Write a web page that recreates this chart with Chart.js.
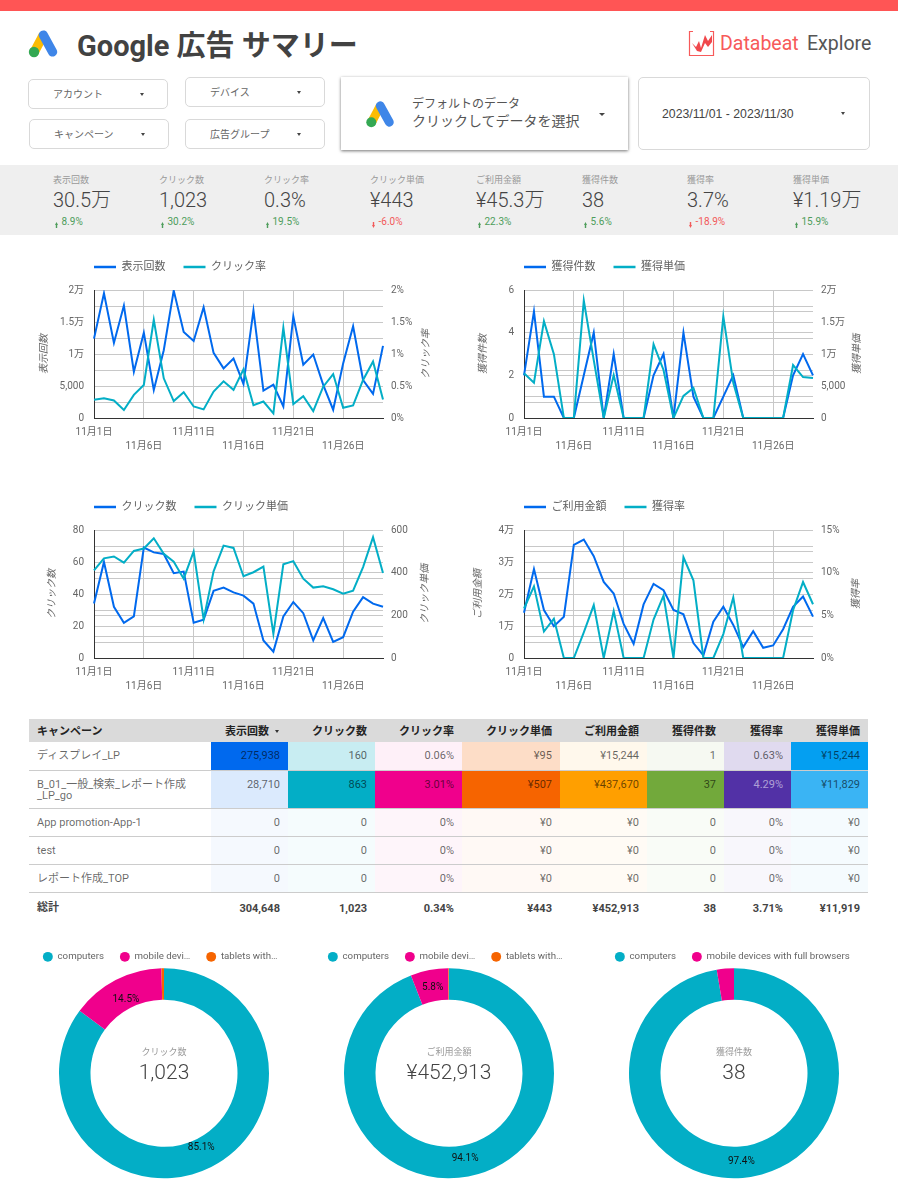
<!DOCTYPE html>
<html lang="ja">
<head>
<meta charset="utf-8">
<title>Google 広告 サマリー</title>
<script src="https://cdn.jsdelivr.net/npm/chart.js@4/dist/chart.umd.min.js"></script>
<style>
  html, body { margin: 0; padding: 0; background: #fff; }
  body { width: 898px; height: 1198px; position: relative; overflow: hidden;
         font-family: Roboto, "Noto Sans CJK JP", sans-serif; color: #444; }
  .abs { position: absolute; white-space: nowrap; }
  canvas { position: absolute; }
  .box { position: absolute; box-sizing: border-box; background: #fff; border: 1px solid #d9d9d9; border-radius: 5px; }
  .boxText { position: absolute; font-size: 10px; color: #666; line-height: 12px; white-space: nowrap; }
  .caret { position: absolute; width: 0; height: 0; border-left: 2.5px solid transparent;
           border-right: 2.5px solid transparent; border-top: 3px solid #444; }
  #band { position: absolute; left: 0; top: 165px; width: 898px; height: 70px; background: #efefef; }
  #tbl { position: absolute; left: 29px; top: 719px; width: 839px; border-collapse: collapse; table-layout: fixed; font-size: 11px; }
  #tbl th { height: 23px; box-sizing: border-box; background: #dadada; color: #222; text-align: right; padding: 0 8px 2px; font-weight: 700; white-space: nowrap; }
  #tbl th:first-child, #tbl td:first-child { text-align: left; }
  #tbl td { vertical-align: top; text-align: right; padding: 7px 8px 0; line-height: 13px; color: rgba(0,0,0,.6);
            border-bottom: 1px solid #ccc; box-sizing: border-box; height: 28px; white-space: pre-line; overflow: hidden; }
  #tbl td:first-child { line-height: 11.5px; padding-top: 8px; }
  #tbl tr.total td { border-bottom: none; font-weight: 700; color: #444; padding-top: 9px; }
</style>
</head>
<body>

<div class="abs" style="left:0;top:0;width:898px;height:11px;background:#ff5555"></div>

<svg class="abs" style="left:28px;top:29px" width="30" height="29" viewBox="28 29 30 29">
  <line x1="43.3" y1="35" x2="34.3" y2="52" stroke="#fbbc04" stroke-width="9.2"/>
  <line x1="43.3" y1="35" x2="52.6" y2="52" stroke="#3f86e8" stroke-width="9.2" stroke-linecap="round"/>
  <circle cx="34" cy="52" r="5.2" fill="#34a853"/>
</svg>
<div class="abs" style="left:77px;top:26px;font-size:29px;font-weight:700;line-height:40px;color:#424242">Google 広告 サマリー</div>

<svg class="abs" style="left:688px;top:30px" width="28" height="27" viewBox="0 0 28 27">
  <path d="M5 1.500H1.500V25.500H25.500V1.500H22" fill="none" stroke="#f75a5a" stroke-width="1.2"/>
  <path d="M4 13L8 17L11 11L13 18L17 5L20 11L24 5L24 12L20 17L17 13L13 22L9 21Z" fill="#f0484c"/>
</svg>
<div class="abs" style="left:720px;top:30px;font-size:19.500px;line-height:28px;color:#f75a5a">Databeat</div>
<div class="abs" style="left:807px;top:30px;font-size:19.500px;line-height:28px;color:#555">Explore</div>

<div class="box" style="left:28px;top:79px;width:140px;height:30px"></div>
<div class="boxText" style="left:53px;top:89px">アカウント</div><div class="caret" style="left:140px;top:93px"></div>
<div class="box" style="left:185px;top:77px;width:140px;height:30px"></div>
<div class="boxText" style="left:210px;top:87px">デバイス</div><div class="caret" style="left:297px;top:91px"></div>
<div class="box" style="left:29px;top:119px;width:140px;height:30px"></div>
<div class="boxText" style="left:54px;top:129px">キャンペーン</div><div class="caret" style="left:141px;top:133px"></div>
<div class="box" style="left:185px;top:119px;width:140px;height:30px"></div>
<div class="boxText" style="left:210px;top:129px">広告グループ</div><div class="caret" style="left:297px;top:133px"></div>

<div class="abs" style="left:341px;top:77px;width:287px;height:73px;background:#fff;box-shadow:0 1px 3px rgba(0,0,0,.55)"></div>
<svg class="abs" style="left:365px;top:100px" width="30" height="28" viewBox="28 29 30 29">
  <line x1="43.3" y1="35" x2="34.3" y2="52" stroke="#fbbc04" stroke-width="9.2"/>
  <line x1="43.3" y1="35" x2="52.6" y2="52" stroke="#3f86e8" stroke-width="9.2" stroke-linecap="round"/>
  <circle cx="34" cy="52" r="5.2" fill="#34a853"/>
</svg>
<div class="abs" style="left:412px;top:96px;font-size:12px;line-height:16px;color:#555">デフォルトのデータ</div>
<div class="abs" style="left:412px;top:112px;font-size:14px;line-height:18px;color:#555">クリックしてデータを選択</div>
<div class="caret" style="left:599px;top:113px;border-left-width:3px;border-right-width:3px;border-top-width:3px"></div>

<div class="box" style="left:638px;top:77px;width:232px;height:73px"></div>
<div class="abs" style="left:662px;top:106px;font-size:12.250px;line-height:17px;color:#444;font-family:'Liberation Sans',sans-serif">2023/11/01 - 2023/11/30</div>
<div class="caret" style="left:841px;top:112px"></div>

<div id="band"></div>
<div id="kpis"></div>

<canvas id="chartImp" width="409" height="206" style="left:34px;top:251px"></canvas>
<canvas id="chartCv" width="409" height="206" style="left:464px;top:251px"></canvas>
<canvas id="chartClick" width="409" height="206" style="left:34px;top:491px"></canvas>
<canvas id="chartCost" width="409" height="206" style="left:464px;top:491px"></canvas>

<table id="tbl"></table>

<canvas id="donutClick" width="280" height="250" style="left:24px;top:934px"></canvas>
<canvas id="donutCost" width="280" height="250" style="left:309px;top:934px"></canvas>
<canvas id="donutCv" width="320" height="250" style="left:574px;top:934px"></canvas>

<script>
// =============================DATA
const days = ['11月1日','11月2日','11月3日','11月4日','11月5日','11月6日','11月7日','11月8日','11月9日','11月10日',
  '11月11日','11月12日','11月13日','11月14日','11月15日','11月16日','11月17日','11月18日','11月19日','11月20日',
  '11月21日','11月22日','11月23日','11月24日','11月25日','11月26日','11月27日','11月28日','11月29日','11月30日'];

const impressions = [12400,19480,11730,17570,7230,13330,4390,10590,19900,13440,12040,17310,10180,7750,9300,5320,16800,4290,5220,1810,15870,8320,9920,5170,1290,8530,14320,5940,3770,11270];
const ctr = [0.284,0.31,0.274,0.124,0.362,0.517,1.535,0.62,0.264,0.403,0.18,0.134,0.413,0.574,0.44,0.76,0.2,0.258,0.072,1.41,0.217,0.341,0.108,0.49,0.687,0.16,0.196,0.594,0.884,0.289];
const conversions = [2,5,1,1,0,0,2,4,0,3,0,0,0,2,3,0,4,1,0,0,1,2,0,0,0,0,0,2,3,2];
const cpa = [7000,5530,15140,9970,0,0,18350,9040,0,6700,0,0,0,11520,7500,0,3460,4700,0,0,15870,5500,0,0,0,0,0,8270,6400,6250];
const clicks = [34,60,32,22,26,69,66,65,53,54,22,24,42,44,41,39,34,11,4,26,35,28,11,25,10,13,29,38,34,32];
const cpc = [411,467,476,447,502,513,561,488,451,372,499,181,406,527,516,383,402,428,113,439,454,372,330,336,322,301,316,426,566,398];
const cost = [14160,27800,14990,9920,12920,35350,37000,31840,23770,20150,10650,4440,16740,23150,21190,14990,13640,4650,830,11370,16020,10340,3410,8370,3200,3930,8990,16020,19220,12920];
const cvr = [5.8,8.4,3.1,4.6,0,0,3.0,6.2,0,5.5,0,0,0,4.5,7.3,0,11.8,9.1,0,0,2.8,7.1,0,0,0,0,0,5.6,8.9,6.3];

// axis ticks: values that carry a label, and the label itself
const manValues = [0,5000,10000,15000,20000];
const manLabels = ['0','5,000','1万','1.5万','2万'];
const ctrValues = [0,0.5,1,1.5,2];
const ctrLabels = ['0%','0.5%','1%','1.5%','2%'];
const cvValues = [0,2,4,6];
const cvLabels = ['0','2','4','6'];
const clickValues = [0,20,40,60,80];
const clickLabels = ['0','20','40','60','80'];
const cpcValues = [0,200,400,600];
const cpcLabels = ['0','200','400','600'];
const costValues = [0,10000,20000,30000,40000];
const costLabels = ['0','1万','2万','3万','4万'];
const cvrValues = [0,5,10,15];
const cvrLabels = ['0%','5%','10%','15%'];

const kpiNames = ['表示回数','クリック数','クリック率','クリック単価','ご利用金額','獲得件数','獲得率','獲得単価'];
const kpiValues = ['30.5万','1,023','0.3%','¥443','¥45.3万','38','3.7%','¥1.19万'];
const kpiDeltas = ['8.9%','30.2%','19.5%','-6.0%','22.3%','5.6%','-18.9%','15.9%'];

const tableHead = ['キャンペーン','表示回数','クリック数','クリック率','クリック単価','ご利用金額','獲得件数','獲得率','獲得単価'];
const campaigns = ['ディスプレイ_LP','B_01_一般_検索_レポート作成\n_LP_go','App promotion-App-1','test','レポート作成_TOP'];
const tblImpressions = ['275,938','28,710','0','0','0'];
const tblClicks = ['160','863','0','0','0'];
const tblCtr = ['0.06%','3.01%','0%','0%','0%'];
const tblCpc = ['¥95','¥507','¥0','¥0','¥0'];
const tblCost = ['¥15,244','¥437,670','¥0','¥0','¥0'];
const tblCv = ['1','37','0','0','0'];
const tblCvr = ['0.63%','4.29%','0%','0%','0%'];
const tblCpa = ['¥15,244','¥11,829','¥0','¥0','¥0'];
const tblTotals = ['総計','304,648','1,023','0.34%','¥443','¥452,913','38','3.71%','¥11,919'];

const deviceLabels = ['computers','mobile devi…','tablets with…'];
const deviceLabelsCv = ['computers','mobile devices with full browsers'];
const deviceClicks = [871,148,4];
const deviceCost = [426190,26270,453];
const deviceCv = [37,1];

// =============================COLORS
const BLUE = '#0069ee', TEAL = '#03aec6', PINK = '#f0008c', ORANGE = '#f66400',
      AMBER = '#ff9f00', GREEN = '#72a93b', PURPLE = '#5231a6', SKY = '#049ff1';

Chart.defaults.font.family = 'Roboto, "Noto Sans CJK JP", sans-serif';
Chart.defaults.font.size = 10;
Chart.defaults.color = '#666';
Chart.defaults.animation = false;

// =============================KPI BAND
let kpiX = [53,159,264,370,476,582,687,793];
let kpiHtml = '';
kpiNames.forEach(function (name, i) {
    let down = kpiDeltas[i].charAt(0) === '-';
    let col = down ? '#f25a5a' : '#4e9d5b';
    let arrow = down ? '0,3 3,3 1.5,6 ' : '1.5,0 3,3 0,3';
    kpiHtml += '<div class="abs" style="left:' + kpiX[i] + 'px;top:174px;font-size:9px;line-height:12px;color:#999">' + name + '</div>';
    kpiHtml += '<div class="abs" style="left:' + kpiX[i] + 'px;top:186px;font-size:20px;line-height:28px;font-weight:300;color:#444">' + kpiValues[i] + '</div>';
    kpiHtml += '<svg class="abs" style="left:' + (kpiX[i] + 1.5) + 'px;top:222px" width="3" height="6"><polygon points="' + arrow + '" fill="' + col + '"/><rect x="0.8" y="' + (down ? 0 : 3) + '" width="1.4" height="3" fill="' + col + '"/></svg>';
    kpiHtml += '<div class="abs" style="left:' + (kpiX[i] + 8.5) + 'px;top:216px;font-size:10px;line-height:12px;color:' + col + '">' + kpiDeltas[i] + '</div>';
});
document.getElementById('kpis').innerHTML = kpiHtml;

// =============================PLUGINS
// the legend starts over the plot, not at the canvas edge
const placeLegend = {
    id: 'placeLegend',
    beforeDraw: function (chart, args, opts) {
        let pad = chart.legend.options.labels.padding;
        chart.legend.left = (opts.x !== undefined ? opts.x : chart.chartArea.left) - pad;
        chart.legend.top = opts.top;
    }
};

// both axis titles read bottom to top, which the built in right title does not do
const sideTitles = {
    id: 'sideTitles',
    afterDraw: function (chart, args, opts) {
        let ctx = chart.ctx, a = chart.chartArea;
        [[opts.leftX, opts.left], [opts.rightX, opts.right]].forEach(function (t) {
            ctx.save();
            ctx.translate(t[0], (a.top + a.bottom) / 2);
            ctx.rotate(-Math.PI / 2);
            ctx.font = 'italic 10px ' + Chart.defaults.font.family;
            ctx.fillStyle = '#666';
            ctx.textAlign = 'center';
            ctx.textBaseline = 'middle';
            ctx.fillText(t[1], 0, 0);
            ctx.restore();
        });
    }
};

const donutText = {
    id: 'donutText',
    afterDatasetsDraw: function (chart, args, opts) {
        let ctx = chart.ctx;
        let arcs = chart.getDatasetMeta(0).data;
        let data = chart.data.datasets[0].data;
        let total = data.reduce(function (a, b) { return a + b; }, 0);
        ctx.save();
        ctx.textAlign = 'center';
        ctx.textBaseline = 'middle';
        arcs.forEach(function (arc, i) {
            let share = data[i] / total * 100;
            if (share < 5) return;
            let mid = (arc.startAngle + arc.endAngle) / 2;
            let r = 90 - 16 * Math.abs(Math.cos(mid));
            ctx.font = '10px ' + Chart.defaults.font.family;
            ctx.fillStyle = '#111';
            ctx.fillText(share.toFixed(1) + '%', arc.x + Math.cos(mid) * r, arc.y + Math.sin(mid) * r);
        });
        ctx.font = '9px ' + Chart.defaults.font.family;
        ctx.fillStyle = '#999';
        ctx.fillText(opts.name, arcs[0].x, arcs[0].y - 20.5);
        ctx.font = '300 21px ' + Chart.defaults.font.family;
        ctx.fillStyle = '#444';
        ctx.fillText(opts.value, arcs[0].x, arcs[0].y);
        ctx.restore();
    }
};

// =============================LINE CHARTS
function tickLabel(values, labels) {
    return function (value) {
        let i = values.indexOf(value);
        return i >= 0 ? labels[i] : '';
    };
}

function lineChart(id, left, right, titleX) {
    new Chart(document.getElementById(id).getContext('2d'), {
        type: 'line',
        data: {
            labels: days,
            datasets: [
                { label: left.name, data: left.data, yAxisID: 'y', borderColor: BLUE, backgroundColor: BLUE, borderWidth: 2, pointRadius: 0, order: 2 },
                { label: right.name, data: right.data, yAxisID: 'y1', borderColor: TEAL, backgroundColor: TEAL, borderWidth: 2, pointRadius: 0, order: 1 }
            ]
        },
        options: {
            responsive: false,
            layout: { padding: 0 },
            plugins: {
                tooltip: { enabled: false },
                legend: {
                    position: 'top',
                    align: 'start',
                    labels: {
                        font: { size: 11 }, padding: 18, usePointStyle: true, pointStyle: 'line', pointStyleWidth: 22, color: '#616161',
                        sort: function (a, b) { return a.datasetIndex - b.datasetIndex; },
                        generateLabels: function (chart) {
                            return Chart.defaults.plugins.legend.labels.generateLabels(chart).map(function (item) {
                                item.lineWidth = 2.5;
                                return item;
                            });
                        }
                    }
                },
                placeLegend: { top: -7.5 },
                sideTitles: { left: left.name, right: right.name, leftX: titleX[0], rightX: titleX[1] }
            },
            scales: {
                x: {
                    offset: false,
                    afterFit: function (s) { s.height = 39; },
                    border: { color: '#333', width: 1 },
                    grid: { color: '#c8c8c8', drawTicks: false },
                    ticks: {
                        autoSkip: false, maxRotation: 0, minRotation: 0, padding: 8,
                        font: { lineHeight: 1.35 },
                        callback: function (v, i) {
                            if (i % 5 !== 0) return null;
                            return i % 10 === 0 ? days[i] : ['', days[i]];
                        }
                    }
                },
                y: {
                    position: 'left', min: 0, max: left.max,
                    afterFit: function (s) { s.width = 60; },
                    border: { color: '#333', width: 1 },
                    grid: { color: '#c8c8c8', drawTicks: false },
                    ticks: { stepSize: left.step, autoSkip: false, padding: 10, callback: tickLabel(left.values, left.labels) }
                },
                y1: {
                    position: 'right', min: 0, max: right.max,
                    afterFit: function (s) { s.width = 60; },
                    border: { display: false },
                    grid: { color: '#c8c8c8', drawTicks: false },
                    ticks: { stepSize: right.step, autoSkip: false, padding: 8, callback: tickLabel(right.values, right.labels) }
                }
            }
        },
        plugins: [placeLegend, sideTitles]
    });
}

lineChart('chartImp',
    { name: '表示回数', data: impressions, max: 20000, step: 2500, values: manValues, labels: manLabels },
    { name: 'クリック率', data: ctr, max: 2, step: 0.25, values: ctrValues, labels: ctrLabels },
    [10, 392]);
lineChart('chartCv',
    { name: '獲得件数', data: conversions, max: 6, step: 1, values: cvValues, labels: cvLabels },
    { name: '獲得単価', data: cpa, max: 20000, step: 2500, values: manValues, labels: manLabels },
    [19, 393]);
lineChart('chartClick',
    { name: 'クリック数', data: clicks, max: 80, step: 10, values: clickValues, labels: clickLabels },
    { name: 'クリック単価', data: cpc, max: 600, step: 100, values: cpcValues, labels: cpcLabels },
    [18, 391]);
lineChart('chartCost',
    { name: 'ご利用金額', data: cost, max: 40000, step: 5000, values: costValues, labels: costLabels },
    { name: '獲得率', data: cvr, max: 15, step: 2.5, values: cvrValues, labels: cvrLabels },
    [14, 392]);

// =============================TABLE
let tblColumns = [tblImpressions, tblClicks, tblCtr, tblCpc, tblCost, tblCv, tblCvr, tblCpa];
let tblColors = [[0,105,238],[3,174,198],[240,0,140],[246,100,0],[255,159,0],[114,169,59],[82,49,166],[4,159,241]];
let tblWidths = [182,77,87,87,98,87,77,67,77];
let rowHeights = [28,38.5,28,28,28];

function num(s) { return parseFloat(s.replace(/[¥,%]/g, '')); }

let html = '<colgroup>' + tblWidths.map(function (w) { return '<col style="width:' + w + 'px">'; }).join('') + '</colgroup><tr>';
tableHead.forEach(function (h, i) {
    let caret = i === 1 ? '<span style="display:inline-block;width:0;height:0;margin-left:6px;vertical-align:2px;border-left:2.5px solid transparent;border-right:2.5px solid transparent;border-top:3px solid #333"></span>' : '';
    html += '<th' + (i === 1 ? ' style="padding-right:9px"' : '') + '>' + h + caret + '</th>';
});
html += '</tr>';
campaigns.forEach(function (name, r) {
    html += '<tr><td style="height:' + rowHeights[r] + 'px">' + name + '</td>';
    tblColumns.forEach(function (col, c) {
        let max = Math.max.apply(null, col.map(num));
        let alpha = 0.04 + 0.96 * num(col[r]) / max;
        let rgb = tblColors[c];
        let txt = (c === 6 && alpha > 0.9) ? 'color:rgba(255,255,255,.55);' : '';
        html += '<td style="' + txt + 'height:' + rowHeights[r] + 'px;background:rgba(' + rgb[0] + ',' + rgb[1] + ',' + rgb[2] + ',' + alpha.toFixed(3) + ')">' + col[r] + '</td>';
    });
    html += '</tr>';
});
html += '<tr class="total">' + tblTotals.map(function (t) { return '<td>' + t + '</td>'; }).join('') + '</tr>';
document.getElementById('tbl').innerHTML = html;

// =============================DONUTS
function donut(id, labels, values, name, total, legendX) {
    new Chart(document.getElementById(id).getContext('2d'), {
        type: 'doughnut',
        data: {
            labels: labels,
            datasets: [{ data: values, backgroundColor: [TEAL, PINK, ORANGE], borderWidth: 0, clip: false }]
        },
        options: {
            responsive: false,
            cutout: '70%',
            radius: 105,
            layout: { padding: { bottom: 7.2 } },
            plugins: {
                tooltip: { enabled: false },
                legend: {
                    position: 'top',
                    align: 'start',
                    labels: { font: { size: 9.7 }, padding: 16, usePointStyle: true, pointStyle: 'circle', boxWidth: 10, boxHeight: 7, color: '#666' }
                },
                placeLegend: { x: legendX, top: 2 },
                donutText: { name: name, value: total }
            }
        },
        plugins: [placeLegend, donutText]
    });
}

donut('donutClick', deviceLabels, deviceClicks, 'クリック数', '1,023', 19);
donut('donutCost', deviceLabels, deviceCost, 'ご利用金額', '¥452,913', 19);
donut('donutCv', deviceLabelsCv, deviceCv, '獲得件数', '38', 41);
</script>
</body>
</html>
